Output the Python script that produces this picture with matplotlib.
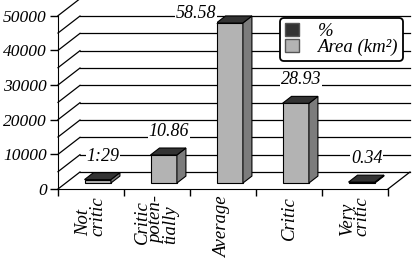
import numpy as np
import matplotlib
matplotlib.use("Agg")
import matplotlib.pyplot as plt
from matplotlib.patches import Polygon, Patch

# Data
categories = ["Not\ncritic", "Critic\npoten-\ntially", "Average", "Critic", "Very\ncritic"]
area_km2 = [1000, 8100, 46200, 23000, 270]
percent_labels = ["1:29", "10.86", "58.58", "28.93", "0.34"]
yticks = [0, 10000, 20000, 30000, 40000, 50000]

plt.rcParams['font.family'] = ['Liberation Serif', 'DejaVu Serif']

# pseudo-3D depth offsets (category units, value units)
DX, DY = 0.333, 4900
bar_x0, bar_w = 0.285, 0.40
z0, z1 = 0.35, 0.76

col_front = '#b3b3b3'
col_side = '#7c7c7c'
col_top = '#333333'

fig = plt.figure(figsize=(4.12, 2.59), dpi=100)
ax = fig.add_axes([0, 0, 1, 1])
ax.set_xlim(-58 / 66, 354 / 66)
ax.set_ylim(-20196, 54530)
ax.patch.set_visible(False)

# walls and gridlines
for v in range(0, 50001, 5000):
    ax.plot([0, DX], [v, v + DY], color='black', lw=0.9, zorder=1)
    ax.plot([DX, 5 + DX], [v + DY, v + DY], color='black', lw=0.9, zorder=1)
ax.plot([5, 5 + DX], [0, DY], color='black', lw=0.9, zorder=1)

# bars (front, side, top faces)
for i, h in enumerate(area_km2):
    xl = i + bar_x0
    xr = xl + bar_w
    front = [(xl + z0 * DX, z0 * DY), (xr + z0 * DX, z0 * DY),
             (xr + z0 * DX, h + z0 * DY), (xl + z0 * DX, h + z0 * DY)]
    side = [(xr + z0 * DX, z0 * DY), (xr + z1 * DX, z1 * DY),
            (xr + z1 * DX, h + z1 * DY), (xr + z0 * DX, h + z0 * DY)]
    top = [(xl + z0 * DX, h + z0 * DY), (xr + z0 * DX, h + z0 * DY),
           (xr + z1 * DX, h + z1 * DY), (xl + z1 * DX, h + z1 * DY)]
    for pts, c in [(front, col_front), (side, col_side), (top, col_top)]:
        ax.add_patch(Polygon(pts, closed=True, facecolor=c, edgecolor='black',
                             lw=0.8, zorder=3))

    # % value labels
    ly = h + 8500
    if ly > 50500:
        ax.text(xl + z0 * DX, 50500, percent_labels[i], ha='right', va='center',
                fontsize=13, style='italic', zorder=4,
                bbox=dict(facecolor='white', edgecolor='none', pad=0.5))
    else:
        ax.text(i + 0.68, ly, percent_labels[i], ha='center', va='center',
                fontsize=13, style='italic', zorder=4,
                bbox=dict(facecolor='white', edgecolor='none', pad=0.5))

# axes lines and ticks
for s in ['top', 'right']:
    ax.spines[s].set_visible(False)
ax.spines['left'].set_position(('data', 0))
ax.spines['bottom'].set_position(('data', 0))
ax.spines['left'].set_bounds(0, 50000)
ax.spines['bottom'].set_bounds(0, 5)
ax.set_yticks(yticks)
ax.set_yticklabels([str(t) for t in yticks], fontsize=12.5, style='italic')
ax.tick_params(axis='y', direction='out', length=6, width=1, pad=2)
ax.set_xticks(range(6))
ax.set_xticklabels([])
ax.tick_params(axis='x', direction='out', length=5, width=1)

# category labels
for i, c in enumerate(categories):
    ax.annotate(c, xy=(i + 0.5, 0), xytext=(0, -7), textcoords='offset pixels',
                rotation=90, ha='center', va='top', multialignment='left',
                fontsize=13.5, style='italic', linespacing=0.78)

handles = [Patch(facecolor=col_top, edgecolor='#555555', label='%'),
           Patch(facecolor=col_front, edgecolor='#555555', label='Area (km²)')]
leg = ax.legend(handles=handles, loc='upper left', bbox_to_anchor=(280 / 412, 1 - 18 / 259),
                prop={'style': 'italic', 'size': 13.5}, labelspacing=-0.05,
                handlelength=0.75, handleheight=0.7, handletextpad=1.0,
                borderpad=0.25, borderaxespad=0, fancybox=True, framealpha=1,
                edgecolor='black')
leg.get_frame().set_linewidth(1.3)
leg.set_zorder(5)

fig.savefig('out.png', dpi=100)
